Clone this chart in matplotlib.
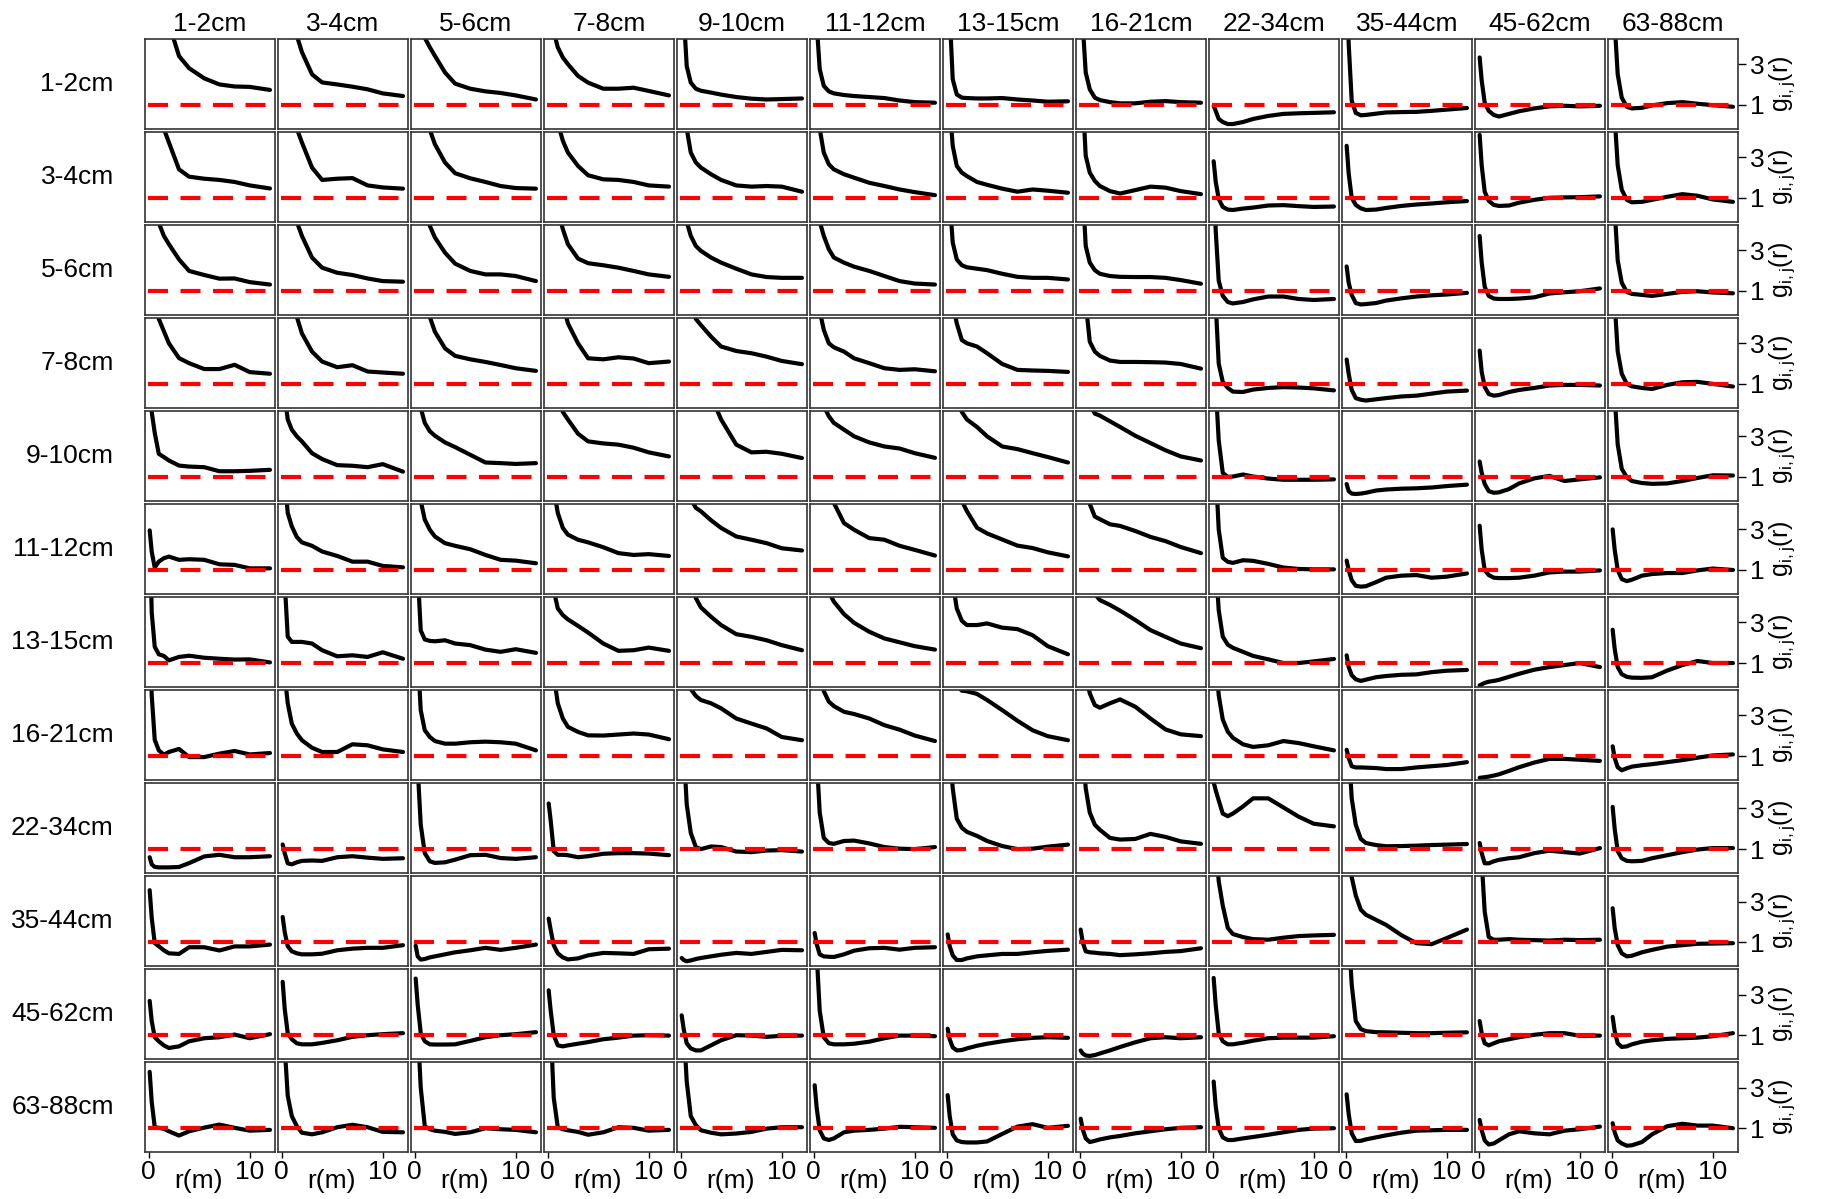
import matplotlib
matplotlib.use('Agg')
import matplotlib.pyplot as plt

plt.rcParams['font.family'] = ['Liberation Sans', 'DejaVu Sans']
plt.rcParams['mathtext.fontset'] = 'custom'
plt.rcParams['mathtext.rm'] = 'Liberation Sans'

# depth classes (columns and rows)
depths = ['1-2cm', '3-4cm', '5-6cm', '7-8cm', '9-10cm', '11-12cm',
          '13-15cm', '16-21cm', '22-34cm', '35-44cm', '45-62cm', '63-88cm']

# distance r (m) at which g(r) was read
r = [0.1, 0.3, 0.6, 1, 1.5, 2, 3, 4, 5.5, 7, 8.5, 10, 12]

# g_ij(r), one list of 12 curves per row
g_1_2 = [
    [9, 9, 8, 7, 6, 5.0, 3.4, 2.8, 2.3, 2.0, 1.9, 1.88, 1.73],
    [9, 8, 7, 6, 4.4, 3.6, 2.5, 2.1, 2.0, 1.89, 1.76, 1.56, 1.43],
    [8, 7, 5.5, 4.3, 3.83, 3.41, 2.59, 2.04, 1.79, 1.66, 1.58, 1.46, 1.26],
    [7, 6, 4.6, 3.83, 3.33, 3.0, 2.42, 2.09, 1.79, 1.79, 1.84, 1.68, 1.46],
    [8, 5.5, 2.9, 2.09, 1.79, 1.69, 1.6, 1.5, 1.38, 1.3, 1.26, 1.28, 1.31],
    [8, 5, 2.75, 1.93, 1.66, 1.56, 1.48, 1.43, 1.38, 1.33, 1.21, 1.13, 1.1],
    [8, 5.5, 2.26, 1.51, 1.35, 1.33, 1.31, 1.31, 1.33, 1.26, 1.21, 1.15, 1.17],
    [8, 5, 2.59, 1.76, 1.35, 1.23, 1.13, 1.07, 1.07, 1.15, 1.18, 1.13, 1.1],
    [0.95, 0.7, 0.3, 0.15, 0.05, 0.05, 0.15, 0.3, 0.45, 0.55, 0.58, 0.6, 0.63],
    [7, 4, 1.2, 0.6, 0.48, 0.5, 0.56, 0.62, 0.64, 0.65, 0.7, 0.76, 0.84],
    [3.33, 2.2, 1.1, 0.7, 0.5, 0.42, 0.55, 0.68, 0.82, 0.92, 0.95, 0.92, 0.95],
    [8, 5, 2.5, 1.35, 0.9, 0.82, 0.85, 0.97, 1.08, 1.13, 1.05, 0.98, 0.9],
]
g_3_4 = [
    [9, 8, 7, 6, 4.4, 3.73, 2.4, 2.04, 1.94, 1.88, 1.78, 1.61, 1.46],
    [9, 8, 7, 6, 4.4, 3.73, 2.49, 1.88, 1.94, 1.97, 1.61, 1.51, 1.45],
    [9, 8, 7, 5.5, 4.35, 3.64, 2.74, 2.21, 1.96, 1.78, 1.58, 1.48, 1.45],
    [8, 7, 6, 4.7, 3.81, 3.23, 2.57, 2.11, 1.91, 1.88, 1.78, 1.61, 1.55],
    [8, 6, 4.4, 3.23, 2.74, 2.49, 2.16, 1.88, 1.61, 1.55, 1.58, 1.55, 1.3],
    [8, 6, 4.4, 3.23, 2.65, 2.4, 2.16, 1.99, 1.74, 1.58, 1.41, 1.28, 1.13],
    [8, 5.5, 3.56, 2.57, 2.24, 2.07, 1.78, 1.64, 1.45, 1.3, 1.41, 1.35, 1.25],
    [8, 6, 3.07, 2.24, 1.83, 1.58, 1.33, 1.21, 1.38, 1.55, 1.5, 1.33, 1.18],
    [2.8, 1.8, 0.95, 0.55, 0.42, 0.4, 0.47, 0.52, 0.62, 0.64, 0.59, 0.55, 0.57],
    [3.56, 2.2, 1.0, 0.65, 0.48, 0.4, 0.42, 0.5, 0.6, 0.67, 0.72, 0.78, 0.84],
    [4.1, 2.6, 1.3, 0.85, 0.65, 0.6, 0.62, 0.76, 0.9, 1.0, 1.02, 1.03, 1.07],
    [8, 5, 2.6, 1.4, 0.9, 0.78, 0.8, 0.9, 1.05, 1.18, 1.1, 0.92, 0.8],
]
g_5_6 = [
    [8, 7, 6, 4.35, 3.71, 3.3, 2.55, 1.98, 1.78, 1.6, 1.61, 1.43, 1.31],
    [9, 8, 7, 6, 4.4, 3.71, 2.64, 2.14, 1.89, 1.78, 1.61, 1.48, 1.45],
    [9, 8, 7, 5.5, 4.2, 3.63, 2.88, 2.34, 1.98, 1.81, 1.81, 1.73, 1.48],
    [8, 7, 6, 5, 4.04, 3.3, 2.59, 2.36, 2.26, 2.14, 1.98, 1.81, 1.69],
    [8, 6, 4.4, 3.71, 3.21, 2.97, 2.64, 2.39, 2.09, 1.81, 1.68, 1.64, 1.64],
    [8, 6, 4.4, 3.71, 3.05, 2.64, 2.39, 2.19, 1.98, 1.73, 1.48, 1.36, 1.31],
    [8, 5.5, 3.38, 2.55, 2.26, 2.16, 2.09, 2.02, 1.84, 1.69, 1.64, 1.64, 1.56],
    [8, 6, 3.21, 2.39, 2.02, 1.84, 1.73, 1.69, 1.68, 1.68, 1.64, 1.53, 1.35],
    [7, 4, 1.5, 0.75, 0.45, 0.38, 0.45, 0.58, 0.72, 0.72, 0.6, 0.55, 0.6],
    [2.2, 1.4, 0.8, 0.4, 0.33, 0.35, 0.4, 0.52, 0.63, 0.72, 0.78, 0.82, 0.9],
    [3.7, 2.4, 1.2, 0.75, 0.62, 0.6, 0.6, 0.62, 0.68, 0.87, 0.93, 0.98, 1.12],
    [8, 5, 2.5, 1.4, 0.95, 0.85, 0.8, 0.75, 0.85, 0.95, 0.98, 0.92, 0.88],
]
g_7_8 = [
    [8, 7, 5.5, 4.2, 3.6, 3.0, 2.27, 2.02, 1.73, 1.73, 1.94, 1.58, 1.5],
    [9, 8, 7, 6, 4.3, 3.49, 2.59, 2.1, 1.82, 1.92, 1.61, 1.56, 1.5],
    [9, 8, 7, 6, 4.3, 3.57, 2.75, 2.38, 2.21, 2.08, 1.93, 1.77, 1.64],
    [9, 8, 7, 6, 5, 3.98, 3.0, 2.26, 2.21, 2.31, 2.25, 2.02, 2.1],
    [9, 8, 7, 5.5, 4.2, 3.9, 3.33, 2.84, 2.62, 2.51, 2.34, 2.13, 1.97],
    [8, 6, 4.6, 3.66, 3.0, 2.8, 2.59, 2.26, 2.02, 1.77, 1.69, 1.72, 1.62],
    [8, 7, 5, 3.98, 3.16, 3.0, 2.84, 2.51, 1.98, 1.69, 1.66, 1.64, 1.59],
    [9, 7, 5, 3.08, 2.59, 2.38, 2.15, 2.08, 2.08, 2.07, 2.05, 1.98, 1.75],
    [8, 5, 2.0, 1.1, 0.8, 0.62, 0.6, 0.72, 0.8, 0.84, 0.82, 0.78, 0.68],
    [2.2, 1.5, 0.7, 0.3, 0.22, 0.18, 0.24, 0.3, 0.38, 0.42, 0.52, 0.62, 0.67],
    [2.64, 1.6, 0.85, 0.5, 0.42, 0.45, 0.6, 0.7, 0.8, 0.92, 0.95, 0.95, 0.92],
    [8, 5, 2.6, 1.5, 1.0, 0.88, 0.8, 0.75, 0.95, 1.08, 1.1, 1.0, 0.87],
]
g_9_10 = [
    [8, 4.2, 3.17, 2.14, 1.98, 1.81, 1.56, 1.51, 1.48, 1.28, 1.28, 1.3, 1.35],
    [8, 5, 3.83, 3.33, 3.0, 2.75, 2.17, 1.88, 1.58, 1.55, 1.48, 1.63, 1.26],
    [8, 6, 4.4, 3.66, 3.25, 3.03, 2.7, 2.47, 2.09, 1.71, 1.68, 1.64, 1.68],
    [9, 8, 7, 5.5, 4.2, 3.83, 3.13, 2.75, 2.65, 2.59, 2.44, 2.21, 2.01],
    [9, 9, 9, 8, 7, 6, 5, 3.83, 2.59, 2.21, 2.24, 2.14, 1.93],
    [9, 8, 7, 4.5, 3.99, 3.66, 3.33, 3.0, 2.7, 2.5, 2.4, 2.17, 1.94],
    [9, 8, 7, 5.5, 4.2, 3.83, 3.46, 3.0, 2.5, 2.37, 2.17, 1.98, 1.71],
    [9, 8, 7, 4.6, 4.12, 4.02, 3.74, 3.46, 3.03, 2.67, 2.31, 2.01, 1.81],
    [8, 5.5, 2.8, 1.2, 1.0, 1.02, 1.12, 1.02, 0.92, 0.86, 0.86, 0.86, 0.88],
    [0.65, 0.3, 0.18, 0.16, 0.18, 0.22, 0.33, 0.38, 0.42, 0.44, 0.48, 0.55, 0.62],
    [1.76, 1.2, 0.65, 0.3, 0.22, 0.24, 0.4, 0.68, 0.93, 1.05, 0.8, 0.88, 0.98],
    [8, 5, 2.6, 1.4, 0.98, 0.8, 0.7, 0.66, 0.68, 0.8, 0.95, 1.08, 1.07],
]
g_11_12 = [
    [2.95, 1.9, 1.12, 1.41, 1.58, 1.66, 1.5, 1.53, 1.5, 1.28, 1.25, 1.08, 1.08],
    [8, 5.5, 3.81, 3.15, 2.62, 2.36, 2.19, 1.91, 1.69, 1.41, 1.41, 1.2, 1.13],
    [8, 6, 4.4, 3.48, 2.98, 2.65, 2.32, 2.19, 2.02, 1.74, 1.5, 1.46, 1.33],
    [8, 7, 5, 3.81, 3.07, 2.74, 2.49, 2.36, 2.12, 1.83, 1.74, 1.78, 1.69],
    [9, 8, 7, 4.5, 4.06, 3.89, 3.45, 3.07, 2.65, 2.49, 2.32, 2.07, 1.96],
    [9, 9, 8, 7, 5.5, 4.3, 3.31, 2.98, 2.57, 2.49, 2.19, 1.99, 1.71],
    [9, 8, 7, 6, 4.4, 3.9, 3.08, 2.8, 2.5, 2.2, 2.08, 1.87, 1.67],
    [9, 8, 6, 4.25, 3.63, 3.5, 3.25, 3.17, 2.92, 2.63, 2.42, 2.13, 1.83],
    [8, 6, 3.0, 1.6, 1.4, 1.35, 1.48, 1.45, 1.3, 1.12, 1.05, 1.03, 1.03],
    [1.46, 1.0, 0.5, 0.22, 0.18, 0.2, 0.4, 0.62, 0.72, 0.75, 0.62, 0.67, 0.83],
    [3.18, 2.0, 1.0, 0.75, 0.62, 0.6, 0.6, 0.62, 0.72, 0.88, 0.92, 0.92, 0.98],
    [3.0, 2.0, 1.0, 0.55, 0.45, 0.52, 0.72, 0.8, 0.85, 0.85, 0.98, 1.07, 1.0],
]
g_13_15 = [
    [8, 3.5, 1.8, 1.43, 1.35, 1.13, 1.3, 1.36, 1.26, 1.21, 1.17, 1.18, 1.03],
    [8, 5, 2.3, 2.04, 2.04, 2.04, 1.96, 1.63, 1.33, 1.38, 1.3, 1.53, 1.21],
    [8, 5.5, 2.6, 2.16, 2.09, 2.07, 2.12, 1.96, 1.88, 1.66, 1.55, 1.68, 1.5],
    [8, 6, 4.6, 3.69, 3.36, 3.15, 2.83, 2.5, 1.96, 1.6, 1.63, 1.76, 1.6],
    [9, 8, 7, 5.5, 4.2, 3.74, 3.28, 2.87, 2.42, 2.29, 2.12, 1.88, 1.63],
    [9, 8, 7, 6, 4.5, 4.02, 3.41, 2.98, 2.54, 2.21, 2.02, 1.83, 1.66],
    [8, 7, 5, 3.69, 3.08, 2.87, 2.87, 2.95, 2.74, 2.67, 2.37, 1.83, 1.43],
    [9, 8, 7, 6, 4.4, 4.1, 3.86, 3.58, 3.12, 2.62, 2.29, 1.96, 1.73],
    [8, 6, 3.6, 2.3, 1.9, 1.75, 1.55, 1.35, 1.18, 1.0, 1.0, 1.08, 1.2],
    [1.38, 0.8, 0.4, 0.2, 0.12, 0.18, 0.3, 0.36, 0.42, 0.44, 0.55, 0.62, 0.66],
    [-0.1, -0.05, 0.02, 0.08, 0.12, 0.17, 0.32, 0.47, 0.67, 0.8, 0.9, 1.0, 0.8],
    [2.64, 1.7, 0.8, 0.45, 0.32, 0.28, 0.27, 0.3, 0.63, 0.9, 1.1, 1.0, 1.0],
]
g_16_21 = [
    [8, 4, 1.8, 1.28, 1.07, 1.2, 1.35, 0.95, 0.95, 1.12, 1.25, 1.08, 1.15],
    [8, 5, 3.6, 2.6, 2.11, 1.78, 1.41, 1.2, 1.2, 1.58, 1.53, 1.33, 1.2],
    [8, 6, 3.26, 2.27, 1.94, 1.74, 1.61, 1.61, 1.68, 1.71, 1.68, 1.61, 1.28],
    [8, 7, 5, 3.6, 2.85, 2.44, 2.19, 2.02, 2.01, 2.06, 2.11, 2.06, 1.83],
    [9, 8, 6, 4.3, 3.96, 3.76, 3.6, 3.35, 2.85, 2.6, 2.36, 1.94, 1.78],
    [9, 8, 6, 4.2, 3.68, 3.46, 3.18, 3.07, 2.85, 2.52, 2.3, 2.01, 1.74],
    [9, 8, 6, 4.5, 4.22, 4.19, 4.06, 3.76, 3.26, 2.74, 2.27, 1.98, 1.78],
    [8, 6.5, 5, 4.09, 3.51, 3.38, 3.6, 3.79, 3.43, 2.85, 2.31, 2.07, 1.98],
    [8, 6, 4.0, 2.8, 2.2, 1.9, 1.58, 1.45, 1.53, 1.74, 1.64, 1.48, 1.28],
    [1.31, 0.9, 0.5, 0.44, 0.44, 0.43, 0.41, 0.36, 0.36, 0.44, 0.5, 0.56, 0.7],
    [-0.07, -0.06, -0.04, -0.01, 0.04, 0.1, 0.27, 0.45, 0.68, 0.86, 0.86, 0.82, 0.76],
    [1.48, 0.9, 0.45, 0.3, 0.4, 0.48, 0.55, 0.6, 0.7, 0.8, 0.92, 1.03, 1.08],
]
g_22_34 = [
    [0.6, 0.25, 0.12, 0.1, 0.1, 0.1, 0.12, 0.31, 0.64, 0.72, 0.6, 0.6, 0.65],
    [1.23, 0.8, 0.3, 0.25, 0.35, 0.42, 0.44, 0.42, 0.6, 0.65, 0.58, 0.52, 0.55],
    [8, 5, 2.2, 0.8, 0.4, 0.32, 0.35, 0.48, 0.7, 0.72, 0.56, 0.52, 0.6],
    [3.25, 2.4, 0.9, 0.72, 0.72, 0.7, 0.6, 0.65, 0.77, 0.8, 0.8, 0.78, 0.7],
    [8, 6, 3.2, 1.8, 1.1, 1.0, 1.13, 1.1, 0.88, 0.85, 0.93, 0.95, 0.88],
    [8, 5.5, 2.8, 1.55, 1.3, 1.26, 1.4, 1.42, 1.28, 1.1, 1.02, 1.0, 1.1],
    [8, 6, 4.0, 2.5, 2.05, 1.85, 1.65, 1.4, 1.15, 1.0, 1.02, 1.12, 1.22],
    [8, 6, 4.0, 2.8, 2.2, 1.95, 1.55, 1.47, 1.5, 1.75, 1.6, 1.38, 1.26],
    [4.3, 3.9, 3.4, 2.75, 2.62, 2.75, 3.1, 3.5, 3.5, 3.05, 2.6, 2.25, 2.12],
    [8, 6, 3.5, 2.2, 1.5, 1.3, 1.2, 1.14, 1.15, 1.17, 1.2, 1.22, 1.25],
    [1.3, 0.8, 0.3, 0.3, 0.4, 0.47, 0.55, 0.6, 0.8, 0.92, 0.85, 0.78, 1.05],
    [3.08, 2.0, 0.9, 0.55, 0.42, 0.4, 0.42, 0.55, 0.7, 0.85, 0.98, 1.05, 1.05],
]
g_35_44 = [
    [3.56, 2.2, 0.95, 0.8, 0.6, 0.45, 0.42, 0.75, 0.75, 0.59, 0.79, 0.79, 0.88],
    [2.24, 1.5, 0.8, 0.55, 0.45, 0.4, 0.4, 0.43, 0.6, 0.68, 0.72, 0.72, 0.85],
    [0.83, 0.3, 0.14, 0.17, 0.25, 0.3, 0.4, 0.5, 0.6, 0.72, 0.62, 0.72, 0.88],
    [2.16, 1.6, 0.85, 0.45, 0.25, 0.15, 0.2, 0.35, 0.47, 0.45, 0.42, 0.65, 0.68],
    [0.22, 0.12, 0.06, 0.1, 0.17, 0.22, 0.3, 0.38, 0.47, 0.42, 0.52, 0.62, 0.6],
    [1.45, 0.9, 0.4, 0.3, 0.28, 0.27, 0.4, 0.58, 0.7, 0.72, 0.63, 0.72, 0.75],
    [1.38, 0.8, 0.35, 0.12, 0.12, 0.2, 0.3, 0.35, 0.42, 0.42, 0.5, 0.57, 0.63],
    [1.62, 1.0, 0.55, 0.5, 0.48, 0.45, 0.42, 0.36, 0.4, 0.45, 0.52, 0.56, 0.7],
    [8, 6, 4.0, 2.8, 1.7, 1.4, 1.25, 1.15, 1.12, 1.22, 1.3, 1.33, 1.36],
    [8, 6, 4.2, 3.3, 2.6, 2.35, 2.1, 1.85, 1.35, 0.95, 0.9, 1.2, 1.62],
    [8, 5, 2.5, 1.25, 1.12, 1.12, 1.15, 1.12, 1.1, 1.08, 1.12, 1.1, 1.12],
    [2.67, 1.7, 0.85, 0.45, 0.3, 0.33, 0.5, 0.62, 0.78, 0.85, 0.92, 0.93, 0.95],
]
g_45_62 = [
    [2.69, 1.7, 0.9, 0.7, 0.5, 0.37, 0.45, 0.7, 0.85, 0.9, 1.03, 0.85, 1.05],
    [3.63, 2.3, 1.1, 0.8, 0.6, 0.55, 0.55, 0.62, 0.75, 0.92, 1.0, 1.05, 1.1],
    [3.79, 2.5, 1.1, 0.7, 0.55, 0.54, 0.54, 0.55, 0.72, 0.9, 1.0, 1.05, 1.15],
    [3.21, 2.2, 1.0, 0.5, 0.45, 0.5, 0.58, 0.66, 0.8, 0.88, 0.98, 1.0, 0.98],
    [1.98, 1.3, 0.6, 0.35, 0.25, 0.25, 0.5, 0.75, 1.0, 0.98, 0.92, 0.97, 0.98],
    [8, 5, 2.2, 0.9, 0.6, 0.55, 0.55, 0.58, 0.68, 0.85, 0.98, 0.98, 0.95],
    [1.32, 0.8, 0.4, 0.25, 0.27, 0.35, 0.48, 0.58, 0.7, 0.8, 0.87, 0.9, 0.87],
    [0.25, 0.1, 0.0, -0.02, 0.02, 0.1, 0.25, 0.42, 0.65, 0.85, 0.9, 0.85, 0.9],
    [3.82, 2.5, 1.1, 0.7, 0.55, 0.55, 0.63, 0.73, 0.85, 0.88, 0.88, 0.88, 0.95],
    [8, 6, 3.5, 1.7, 1.3, 1.2, 1.15, 1.14, 1.12, 1.1, 1.1, 1.12, 1.14],
    [1.7, 1.1, 0.6, 0.5, 0.6, 0.7, 0.8, 0.9, 1.02, 1.1, 1.1, 0.97, 0.98],
    [1.9, 1.2, 0.6, 0.42, 0.45, 0.55, 0.68, 0.75, 0.82, 0.85, 0.88, 0.95, 1.1],
]
g_63_88 = [
    [3.78, 2.3, 1.05, 1.02, 0.97, 0.85, 0.64, 0.85, 1.03, 1.18, 1.02, 0.88, 0.92],
    [8, 5, 2.6, 1.6, 1.1, 0.78, 0.7, 0.8, 1.05, 1.17, 1.05, 0.82, 0.8],
    [8, 6, 3.0, 1.1, 0.95, 0.88, 0.82, 0.72, 0.8, 1.0, 0.95, 0.92, 0.8],
    [8, 6, 2.5, 1.05, 0.95, 0.9, 0.82, 0.68, 0.8, 1.05, 1.02, 0.88, 0.92],
    [8, 6, 3.3, 1.6, 1.15, 0.9, 0.78, 0.7, 0.74, 0.82, 0.98, 1.05, 1.05],
    [3.12, 2.0, 0.9, 0.5, 0.42, 0.5, 0.8, 0.88, 0.92, 0.98, 1.07, 1.05, 1.02],
    [2.63, 1.6, 0.7, 0.4, 0.32, 0.3, 0.3, 0.35, 0.72, 1.08, 1.2, 1.02, 1.12],
    [1.47, 0.95, 0.5, 0.32, 0.38, 0.45, 0.55, 0.62, 0.75, 0.85, 0.95, 1.02, 1.05],
    [3.3, 2.1, 1.0, 0.55, 0.42, 0.42, 0.5, 0.57, 0.68, 0.8, 0.92, 0.98, 1.0],
    [2.67, 1.7, 0.75, 0.37, 0.38, 0.45, 0.55, 0.65, 0.78, 0.88, 0.9, 0.92, 0.92],
    [1.41, 0.9, 0.4, 0.2, 0.25, 0.4, 0.7, 0.85, 0.75, 0.7, 0.88, 0.95, 1.08],
    [1.25, 0.8, 0.4, 0.25, 0.14, 0.16, 0.32, 0.7, 1.1, 1.22, 1.13, 1.13, 1.0],
]

rows = [g_1_2, g_3_4, g_5_6, g_7_8, g_9_10, g_11_12,
        g_13_15, g_16_21, g_22_34, g_35_44, g_45_62, g_63_88]

fig, axes = plt.subplots(12, 12, figsize=(18.22, 11.99), dpi=100)
fig.subplots_adjust(left=0.0796, right=0.9539, top=0.9675, bottom=0.0392,
                    wspace=0.023, hspace=0.039)

n = len(depths)
for i in range(n):
    for j in range(n):
        ax = axes[i, j]
        ax.plot(r, rows[i][j], color='black', lw=3.0,
                solid_capstyle='round', solid_joinstyle='round', zorder=2)
        ax.plot([-0.1, 12.5], [1, 1], color='red', lw=3.0,
                dashes=(4.8, 3.0), zorder=3)
        ax.set_xlim(-0.36, 12.5)
        ax.set_ylim(-0.17, 4.24)
        ax.set_xticks([0, 10])
        ax.set_yticks([1, 3])
        for sp in ax.spines.values():
            sp.set_color('#333333')
            sp.set_linewidth(1.2)

        if i == n - 1:
            ax.tick_params(axis='x', length=4, width=1, pad=2,
                           labelsize=19, colors='black')
            ax.set_xlabel('r(m)', fontsize=19)
            ax.xaxis.set_label_coords(0.41, -0.19)
        else:
            ax.tick_params(axis='x', bottom=False, labelbottom=False)

        if j == n - 1:
            ax.yaxis.tick_right()
            ax.tick_params(axis='y', left=False, labelleft=False,
                           right=True, labelright=True,
                           length=5.5, width=1, pad=3, labelsize=19)
            ax.yaxis.set_label_position('right')
            ax.set_ylabel(r'$\mathregular{g_{i,j}(r)}$', fontsize=18,
                          labelpad=2)
        else:
            ax.tick_params(axis='y', left=False, labelleft=False)

        if i == 0:
            ax.set_title(depths[j], fontsize=19, pad=6)
        if j == 0:
            ax.text(-0.24, 0.5, depths[i], transform=ax.transAxes,
                    ha='right', va='center', fontsize=19)

fig.savefig('out.png', dpi=100)
